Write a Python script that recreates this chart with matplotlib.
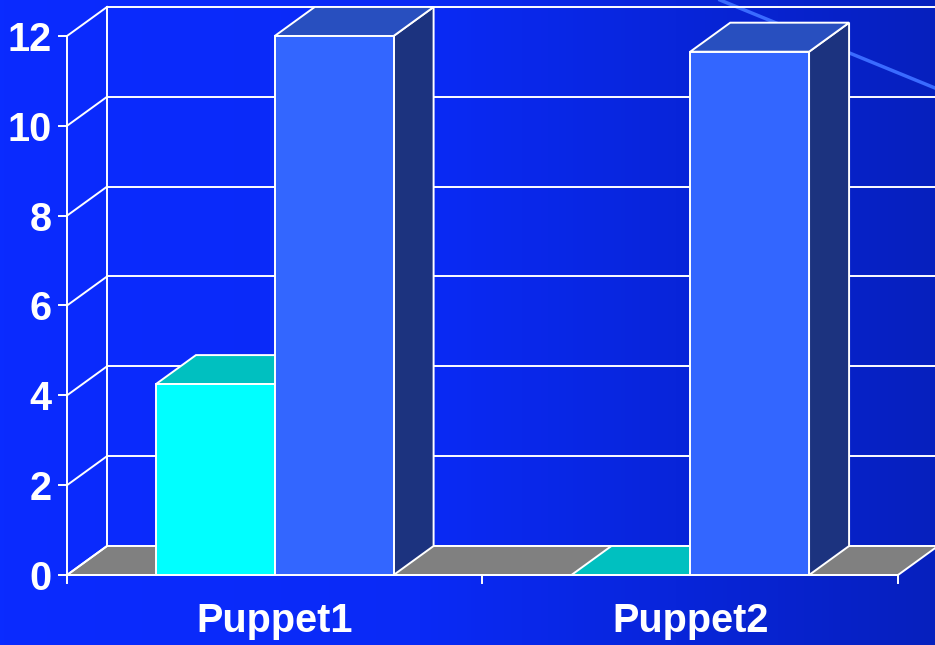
import numpy as np
import matplotlib.pyplot as plt
from matplotlib.colors import LinearSegmentedColormap
from matplotlib.patches import Polygon

# Valores do gráfico (duas séries por categoria)
categories = ["Puppet1", "Puppet2"]
series_cyan = [4.25, 0.0]
series_blue = [12.0, 11.65]
y_ticks = [0, 2, 4, 6, 8, 10, 12]

# Geometria do efeito 3D, em unidades de dados
BAR_W = 0.286          # largura de cada barra (fração da categoria)
DX, DY = 0.0963, 0.646  # deslocamento da profundidade

WHITE = "white"
LW = 1.4

fig = plt.figure(figsize=(9.35, 6.45), dpi=100)
ax = fig.add_axes([0, 0, 1, 1])
xlim = (-0.1613, 2.0891)
ylim = (-1.558, 12.801)
ax.set_xlim(*xlim)
ax.set_ylim(*ylim)
ax.axis("off")

# Fundo com degradê horizontal
bg = LinearSegmentedColormap.from_list(
    "bg", [(0.0, "#0A2BFF"), (0.45, "#0A2AF6"), (1.0, "#0620BE")]
)
ax.imshow(np.linspace(0, 1, 256)[None, :], cmap=bg, aspect="auto",
          extent=(*xlim, *ylim), zorder=0)

# Linha decorativa do slide
ax.plot([720 / 935, 1.0], [1.0, 1 - 88 / 645], transform=ax.transAxes,
        color="#3A6BFF", lw=2.5, zorder=0.5)

n = len(categories)

# Piso cinza
floor = Polygon([(0, 0), (n, 0), (n + DX, DY), (DX, DY)], closed=True,
                facecolor="#808080", edgecolor=WHITE, lw=LW, zorder=1)
ax.add_patch(floor)

# Grade da parede de fundo e da parede lateral
for t in y_ticks:
    ax.plot([DX, n + DX], [t + DY, t + DY], color=WHITE, lw=LW, zorder=0.8)
    ax.plot([0, DX], [t, t + DY], color=WHITE, lw=LW, zorder=1.2)
    ax.plot([-0.019, 0], [t, t], color=WHITE, lw=LW, zorder=1.2)
    ax.text(-0.037, t, str(t), ha="right", va="center_baseline",
            color=WHITE, fontsize=28.5, fontweight="bold",
            family="Liberation Sans", zorder=5)

ax.plot([0, 0], [0, y_ticks[-1]], color=WHITE, lw=LW, zorder=1.2)
ax.plot([DX, DX], [DY, y_ticks[-1] + DY], color=WHITE, lw=LW, zorder=0.8)
ax.plot([0, n], [0, 0], color=WHITE, lw=LW, zorder=1.2)
for i in range(n + 1):
    ax.plot([i, i], [0, -0.18], color=WHITE, lw=LW, zorder=1.2)


def draw_bar(x0, h, c_front, c_top, c_side, z):
    front = [(x0, 0), (x0 + BAR_W, 0), (x0 + BAR_W, h), (x0, h)]
    top = [(x0, h), (x0 + BAR_W, h), (x0 + BAR_W + DX, h + DY), (x0 + DX, h + DY)]
    side = [(x0 + BAR_W, 0), (x0 + BAR_W + DX, DY),
            (x0 + BAR_W + DX, h + DY), (x0 + BAR_W, h)]
    for pts, fc in ((side, c_side), (top, c_top), (front, c_front)):
        ax.add_patch(Polygon(pts, closed=True, facecolor=fc,
                             edgecolor=WHITE, lw=LW, zorder=z))


for i, cat in enumerate(categories):
    center = i + 0.5
    draw_bar(center - BAR_W, series_cyan[i], "#00FFFF", "#00C0C0", "#008888", 2)
    draw_bar(center, series_blue[i], "#3366FF", "#284FBF", "#1C337F", 3)
    ax.text(center, -1.27, cat, ha="center", va="baseline", color=WHITE,
            fontsize=28.5, fontweight="bold", family="Liberation Sans", zorder=5)

fig.savefig("out.png", dpi=100)
